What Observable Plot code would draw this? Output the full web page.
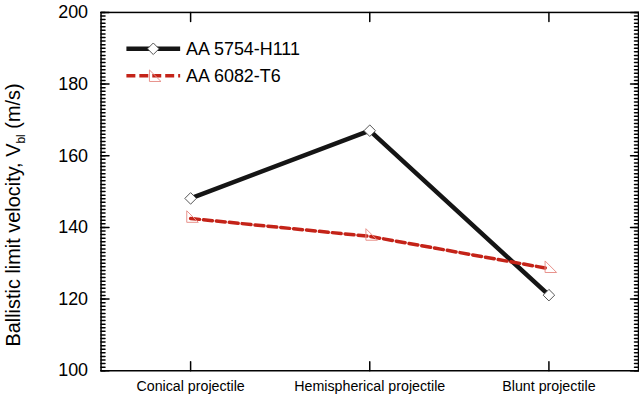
<!DOCTYPE html>
<html><head><meta charset="utf-8">
<script src="https://cdn.jsdelivr.net/npm/d3@7"></script>
<script src="https://cdn.jsdelivr.net/npm/@observablehq/plot@0.6"></script>
<style>html,body{margin:0;padding:0;background:#fff;overflow:hidden}</style>
</head><body><div id="chart"></div>
<script>
const projectiles = ["Conical projectile", "Hemispherical projectile", "Blunt projectile"];
const seriesNames = ["AA 5754-H111", "AA 6082-T6"];
const aa5754 = [148.1, 167.0, 121.1];
const aa6082 = [142.5, 137.5, 128.5];
const yMajorTicks = [100, 120, 140, 160, 180, 200];
const yMinorTicks = d3.range(100, 201, 1);

const rows5754 = projectiles.map((p, i) => ({projectile: p, v: aa5754[i]}));
const rows6082 = projectiles.map((p, i) => ({projectile: p, v: aa6082[i]}));

const FONT = "'Liberation Sans', Arial, Helvetica, sans-serif";
const tickShape = {draw(ctx, l) { ctx.moveTo(0, 0); ctx.lineTo(0, -l); }};
const diamond = {draw(ctx, size) {
  const s = Math.sqrt(size / Math.PI);
  ctx.moveTo(0, -s); ctx.lineTo(s, 0); ctx.lineTo(0, s); ctx.lineTo(-s, 0); ctx.closePath();
}};
const rightTri = {draw(ctx, size) {
  const L = 2 * Math.sqrt(size / Math.PI);
  ctx.moveTo(-L / 3, -2 * L / 3); ctx.lineTo(-L / 3, L / 3); ctx.lineTo(2 * L / 3, L / 3); ctx.closePath();
}};

const black = "#151515", red = "#c42318", pink = "#e8918b", gray = "#555";

const svg = Plot.plot({
  width: 642, height: 397,
  marginLeft: 101, marginRight: 1, marginTop: 12, marginBottom: 25,
  style: {fontFamily: FONT, color: "#000", background: "#fff", overflow: "visible"},
  x: {type: "point", domain: projectiles, padding: 0.5},
  y: {domain: [100, 200]},
  marks: [
    Plot.frame({stroke: "#000", strokeWidth: 1.5}),
    Plot.vector(yMinorTicks, {y: d => d, frameAnchor: "left", rotate: 90, length: 4, anchor: "start", shape: tickShape, stroke: "#000"}),
    Plot.vector(yMajorTicks, {y: d => d, frameAnchor: "left", rotate: 90, length: 8, anchor: "start", shape: tickShape, stroke: "#000"}),
    Plot.vector(yMinorTicks, {y: d => d, frameAnchor: "right", rotate: -90, length: 4, anchor: "start", shape: tickShape, stroke: "#000"}),
    Plot.vector(yMajorTicks, {y: d => d, frameAnchor: "right", rotate: -90, length: 8, anchor: "start", shape: tickShape, stroke: "#000"}),
    Plot.vector(projectiles, {x: d => d, frameAnchor: "bottom", rotate: 0, length: 9, anchor: "start", shape: tickShape, stroke: "#000"}),
    Plot.vector(projectiles, {x: d => d, frameAnchor: "top", rotate: 180, length: 9, anchor: "start", shape: tickShape, stroke: "#000"}),
    Plot.axisY(yMajorTicks, {tickSize: 0, tickPadding: 13, fontSize: 18, label: null}),
    Plot.axisX({tickSize: 0, tickPadding: 10, fontSize: 14.3, label: null}),
    Plot.line(rows5754, {x: "projectile", y: "v", stroke: black, strokeWidth: 4.5}),
    Plot.line(rows6082, {x: "projectile", y: "v", stroke: red, strokeWidth: 3.5, strokeDasharray: "9,4"}),
    Plot.dot(rows5754, {x: "projectile", y: "v", symbol: diamond, r: 5.8, fill: "#fff", stroke: gray, strokeWidth: 1}),
    Plot.dot(rows6082, {x: "projectile", y: "v", symbol: rightTri, r: 5.8, fill: "none", stroke: pink, strokeWidth: 1})
  ]
});

const g = d3.select(svg);
// Legend
const legend = [
  {name: seriesNames[0], stroke: black, width: 4.5, dash: null, sym: diamond, fill: "#fff", mstroke: gray, dy: 0},
  {name: seriesNames[1], stroke: red, width: 3.5, dash: "9,4", sym: rightTri, fill: "none", mstroke: pink, dy: 2}
];
legend.forEach((d, i) => {
  const y = 49 + i * 27;
  g.append("line").attr("x1", 127).attr("x2", 181).attr("y1", y).attr("y2", y)
    .attr("stroke", d.stroke).attr("stroke-width", d.width).attr("stroke-dasharray", d.dash);
  g.append("path").attr("d", d3.symbol(d.sym, Math.PI * 5.8 * 5.8)()).attr("transform", `translate(154,${y + d.dy})`)
    .attr("fill", d.fill).attr("stroke", d.mstroke).attr("stroke-width", 1);
  g.append("text").attr("x", 187).attr("y", y).attr("dy", "0.35em").attr("text-anchor", "start")
    .attr("font-family", FONT).attr("font-size", 18).attr("fill", "#000").text(d.name);
});
// Y axis label with subscript
const t = g.append("text").attr("transform", "translate(20,216) rotate(-90)")
  .attr("text-anchor", "middle").attr("font-family", FONT).attr("font-size", 20).attr("fill", "#000");
t.append("tspan").text("Ballistic limit velocity, V");
t.append("tspan").attr("font-size", 12).attr("dy", 5).text("bl");
t.append("tspan").attr("dy", -5).text(" (m/s)");

document.getElementById("chart").appendChild(svg);
</script></body></html>
